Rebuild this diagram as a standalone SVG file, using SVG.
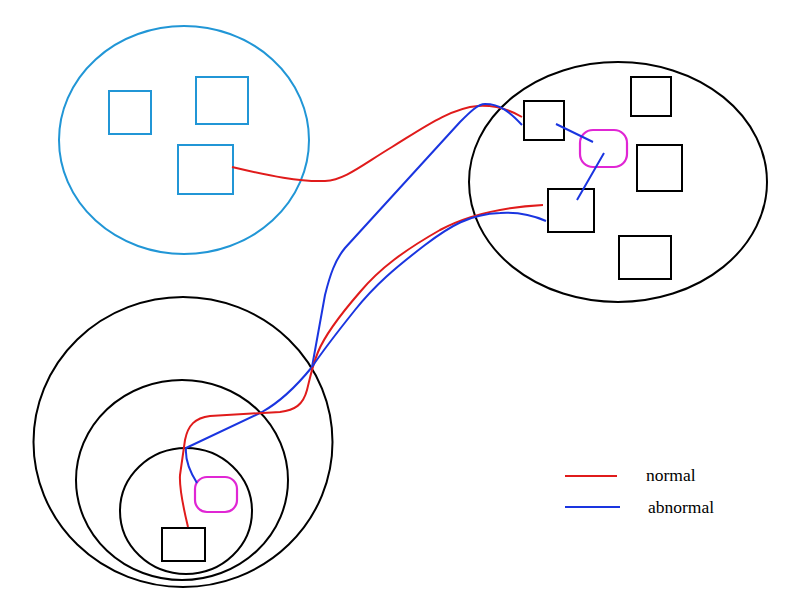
<svg xmlns="http://www.w3.org/2000/svg" width="800" height="600" viewBox="0 0 800 600">
<style>
.bk{fill:none;stroke:#000;stroke-width:2}
.cy{fill:none;stroke:#2196d6;stroke-width:2}
.mg{fill:none;stroke:#e026d4;stroke-width:2.2}
.r{fill:none;stroke:#e01b1b;stroke-width:2}
.b{fill:none;stroke:#1a35e0;stroke-width:2}
.t{font-family:"Liberation Serif",serif;font-size:17.5px;fill:#000}
</style>
<rect width="800" height="600" fill="#fff"/>
<g id="groupA">
<ellipse class="cy" cx="184" cy="140" rx="125" ry="114"/>
<rect id="a1" class="cy" x="109" y="91" width="42" height="43"/>
<rect id="a2" class="cy" x="196" y="77" width="52" height="47"/>
<rect id="a3" class="cy" x="178" y="145" width="55" height="49"/>
</g>
<g id="groupB">
<ellipse class="bk" cx="618" cy="182" rx="149" ry="120"/>
<rect id="b1" class="bk" x="524" y="101" width="40" height="39"/>
<rect id="b2" class="bk" x="631" y="77" width="40" height="39"/>
<rect id="b3" class="bk" x="637" y="145" width="45" height="46"/>
<rect id="b4" class="bk" x="548" y="189" width="46" height="43"/>
<rect id="b5" class="bk" x="619" y="236" width="52" height="43"/>
<rect id="b6" class="mg" x="580" y="130" width="47" height="37" rx="13"/>
</g>
<g id="groupC">
<ellipse class="bk" cx="183" cy="442" rx="149.5" ry="145"/>
<ellipse class="bk" cx="182" cy="480" rx="106" ry="100"/>
<ellipse class="bk" cx="186" cy="511" rx="66" ry="63"/>
<rect id="c1" class="bk" x="162" y="528" width="43" height="33"/>
<rect id="c2" class="mg" x="195" y="477" width="42" height="35" rx="12"/>
</g>
<g id="connectors">
<path class="r" d="M232,167 C270,176 300,182 325,181 C345,180 362,165 392,147 C420,130 450,108 478,106 C495,105 510,110 522,117"/>
<path class="b" d="M522,125 C510,112 500,104 485,104 C478,104 470,112 460,122 L345,248 C335,260 330,275 325,295 L312,367 C295,388 280,402 262,412 L186,448 C185,460 190,472 197,483"/>
<path class="r" d="M543,205 C505,207 470,214 440,230 C405,250 380,268 360,292 C340,315 325,335 318,352 C312,367 310,378 307,390 C303,405 295,410 280,412 L210,416 C195,418 188,425 185,440 L180,475 C179,490 184,510 188,527"/>
<path class="b" d="M546,221 C530,214 515,212 500,213 C470,214 450,226 425,245 C395,268 375,285 355,310 C335,335 322,352 312,367"/>
<path class="b" d="M556,124 L593,142 M577,200 L604,153"/>
</g>
<g id="legend">
<line x1="565" y1="476" x2="617" y2="476" class="r"/>
<line x1="565" y1="507" x2="620" y2="507" class="b"/>
<text class="t" x="646" y="481">normal</text>
<text class="t" x="648" y="513">abnormal</text>
</g>
</svg>
